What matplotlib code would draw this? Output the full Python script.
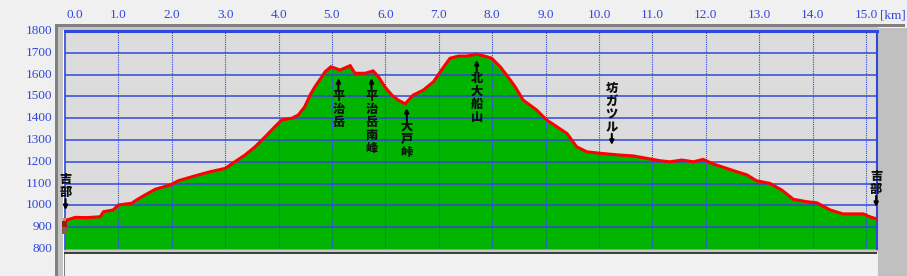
import numpy as np
import matplotlib
matplotlib.use('Agg')
import matplotlib.pyplot as plt
from matplotlib.patches import Rectangle
from matplotlib.transforms import offset_copy, blended_transform_factory

# elevation profile (distance km, elevation m)
dist_km = [0.00, 0.19, 0.41, 0.66, 0.72, 0.90, 1.00, 1.25, 1.34, 1.50, 1.69, 1.97,
           2.12, 2.43, 2.68, 3.00, 3.18, 3.37, 3.56, 3.75, 3.93, 4.06, 4.25, 4.37,
           4.49, 4.59, 4.68, 4.81, 4.87, 4.98, 5.15, 5.34, 5.43, 5.62, 5.77, 5.87,
           5.99, 6.12, 6.24, 6.37, 6.52, 6.71, 6.90, 7.05, 7.21, 7.37, 7.52, 7.71,
           7.90, 7.99, 8.15, 8.27, 8.43, 8.58, 8.83, 9.02, 9.21, 9.40, 9.46, 9.58,
           9.77, 10.02, 10.39, 10.64, 10.89, 11.14, 11.33, 11.55, 11.77, 11.95, 12.14,
           12.39, 12.51, 12.77, 12.95, 13.20, 13.42, 13.64, 13.89, 14.08, 14.33,
           14.57, 14.95, 15.07, 15.20]
elev_m = [930, 945, 944, 948, 971, 979, 1002, 1010, 1025, 1048, 1074, 1094,
          1113, 1135, 1152, 1170, 1200, 1231, 1269, 1315, 1361, 1392, 1400, 1415,
          1453, 1506, 1544, 1590, 1613, 1636, 1621, 1641, 1606, 1606, 1617, 1590,
          1544, 1506, 1483, 1466, 1506, 1529, 1567, 1621, 1675, 1685, 1685, 1694,
          1682, 1675, 1636, 1598, 1544, 1483, 1438, 1392, 1361, 1330, 1310, 1269,
          1246, 1239, 1231, 1227, 1216, 1205, 1200, 1208, 1200, 1211, 1190,
          1170, 1160, 1140, 1113, 1101, 1071, 1028, 1017, 1012, 979,
          961, 961, 948, 938]

x_ticks = [0.0, 1.0, 2.0, 3.0, 4.0, 5.0, 6.0, 7.0, 8.0, 9.0, 10.0, 11.0, 12.0, 13.0, 14.0, 15.0]
y_ticks = [800, 900, 1000, 1100, 1200, 1300, 1400, 1500, 1600, 1700, 1800]

# place names: position along route, anchor elevation, arrow direction
names = ['平治岳', '平治岳南峰', '大戸峠', '北大船山', '坊ガツル', '吉部', '吉部']
name_km = [5.12, 5.74, 6.40, 7.71, 10.24, 0.01, 15.19]
name_elev = [1584, 1584, 1447, 1667, 1539, 1121, 1135]
name_arrow = ['up', 'up', 'up', 'up', 'down', 'down', 'down']

W, H = 907, 276
blue = '#3048dc'
fig = plt.figure(figsize=(W / 100, H / 100), dpi=100)
fig.patch.set_facecolor('#f0f0f0')


def box(x0, y0, x1, y1, color, z=0):
    fig.add_artist(Rectangle((x0 / W, 1 - y1 / H), (x1 - x0) / W, (y1 - y0) / H,
                             transform=fig.transFigure, color=color, lw=0, zorder=z))


# sunken panel frame
box(55, 24.5, 905, 26.5, '#808080')
box(55, 24.5, 58, 276, '#808080')
box(58, 26.5, 878, 30, '#c4c4c4')
box(58, 26.5, 63, 276, '#c4c4c4')
box(63, 30, 878, 31, '#ffffff')
box(63, 30, 64, 276, '#ffffff')
box(878, 28, 907, 276, '#c0c0c0')
box(64, 249, 878, 252, '#c8c8c8')
box(64, 252, 877, 253.5, '#404040')
box(65, 253.5, 876, 276, '#f2f2f2')
box(64, 253.5, 65, 276, '#808080')

x0, x1, y0, y1 = 65, 877, 31, 249
ax = fig.add_axes([x0 / W, 1 - y1 / H, (x1 - x0) / W, (y1 - y0) / H])
xmax = (x1 - x0) / 53.4
ax.set_xlim(0, xmax)
ax.set_ylim(800, 1800)
ax.set_facecolor('#dcdcdc')
for s in ax.spines.values():
    s.set_visible(False)
ax.set_xticks([])
ax.set_yticks([])

ax.fill_between(dist_km, 800, elev_m, color='#00b400', lw=0, zorder=1)
for y in y_ticks[1:-1]:
    ax.axhline(y, color=blue, lw=1.1, zorder=2)
for x in x_ticks[1:]:
    ax.axvline(x, color=blue, lw=0.8, ls=(0, (1, 1)), zorder=2)
ax.axhline(1800, color=blue, lw=2.2, zorder=3, clip_on=False)
ax.axvline(0, color=blue, lw=1.2, zorder=3, clip_on=False)
ax.axvline(xmax, color=blue, lw=1.5, zorder=3, clip_on=False)
ax.plot(dist_km, elev_m, color='#ff0000', lw=2.2, zorder=4, solid_joinstyle='miter')

# tick labels
tfont = dict(family='Liberation Serif', fontsize=9.5, color=blue)
bx = blended_transform_factory(ax.transData, fig.transFigure)
for x in x_ticks:
    xx = 0.19 if x == 0 else x
    ax.text(xx, 1 - 15 / H, '%.1f' % x, transform=bx, ha='center', va='center', **tfont)
fig.text(880 / W, 1 - 15 / H, '[km]', ha='left', va='center', **tfont)
by = blended_transform_factory(fig.transFigure, ax.transData)
for y in y_ticks:
    ax.text(52 / W, y, '%d' % y, transform=by, ha='right', va='center', **tfont)

# vertical place-name labels
jfont = dict(family=['Noto Sans CJK JP', 'DejaVu Sans'], fontsize=8.8, fontweight='heavy', color='#101010')


def shifted(dy):
    return offset_copy(ax.transData, fig=fig, x=0, y=-dy, units='dots')


def arrow(x, y, d_tip, d_base):
    ax.annotate('', xy=(x, y), xycoords=shifted(d_tip), xytext=(x, y), textcoords=shifted(d_base),
                arrowprops=dict(arrowstyle='-|>', color='black', lw=1.5, mutation_scale=6,
                                shrinkA=0, shrinkB=0), zorder=6, annotation_clip=False)


for name, x, y, d in zip(names, name_km, name_elev, name_arrow):
    if d == 'up':
        arrow(x, y, 0, 12)
        first = 18
    else:
        first = 0
    for i, ch in enumerate(name):
        ax.text(x, y, ch, transform=shifted(first + 13 * i), ha='center', va='center',
                zorder=6, clip_on=False, **jfont)
    if d == 'down':
        last = first + 13 * (len(name) - 1)
        arrow(x, y, last + 18, last + 7)

# small hiker figure at the start
box(63, 218, 66, 221, '#e08030', 7)
box(61.5, 221, 66.5, 227, '#a01818', 7)
box(62, 227, 67, 234, '#806040', 7)

fig.savefig('out.png', dpi=100, facecolor=fig.get_facecolor())
